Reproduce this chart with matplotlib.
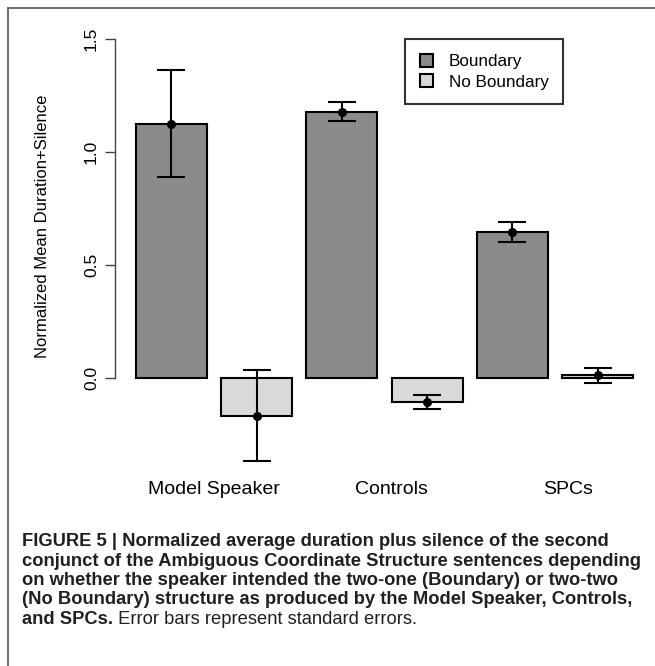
import matplotlib
matplotlib.use("Agg")
import matplotlib.pyplot as plt
from matplotlib.patches import Patch
from matplotlib.lines import Line2D
from matplotlib import font_manager
from matplotlib.font_manager import FontProperties

groups = ["Model Speaker", "Controls", "SPCs"]
series = ["Boundary", "No Boundary"]
boundary_mean = [1.125, 1.178, 0.645]
boundary_se = [0.236, 0.043, 0.045]
noboundary_mean = [-0.166, -0.107, 0.012]
noboundary_se = [0.202, 0.030, 0.032]
yticks = [0.0, 0.5, 1.0, 1.5]
ylabel = "Normalized Mean Duration+Silence"
caption_lines = [
    "FIGURE 5 | Normalized average duration plus silence of the second",
    "conjunct of the Ambiguous Coordinate Structure sentences depending",
    "on whether the speaker intended the two-one (Boundary) or two-two",
    "(No Boundary) structure as produced by the Model Speaker, Controls,",
]
caption_last_bold = "and SPCs."
caption_last_regular = " Error bars represent standard errors."

col_b = "#8a8a8a"
col_nb = "#d9d9d9"

W, H = 655, 666
fig = plt.figure(figsize=(W / 100, H / 100), dpi=100)
plt.rcParams["font.family"] = ["Liberation Sans", "DejaVu Sans"]

def fx(px):
    return px / W

def fy(py):
    return 1 - py / H

renderer = fig.canvas.get_renderer()

available = {f.name for f in font_manager.fontManager.ttflist}
cands = ["Liberation Sans Narrow", "Noto Sans SemiCondensed", "Open Sans SemiCondensed",
         "Noto Sans Condensed", "Open Sans Condensed", "Roboto Condensed",
         "Liberation Sans", "Lato", "Inter", "Roboto", "Noto Sans"]
best = None
for fam in cands:
    if fam not in available:
        continue
    fp = FontProperties(family=[fam], weight="bold", size=10)
    w, h, d = renderer.get_text_width_height_descent(caption_lines[1], fp, ismath=False)
    size = 10 * 621.0 / w
    fp2 = FontProperties(family=[fam], weight="bold", size=size)
    _, hc, dc = renderer.get_text_width_height_descent("H", fp2, ismath=False)
    cap = hc - dc
    score = abs(cap - 11.5)
    if best is None or score < best[0]:
        best = (score, fam, size)
cap_family, cap_size = best[1], best[2]
cap_font = [cap_family, "DejaVu Sans"]

ax_left, ax_right, ax_top, ax_bottom = 115, 645, 30, 470
ax = fig.add_axes([fx(ax_left), fy(ax_bottom), fx(ax_right) - fx(ax_left), fy(ax_top) - fy(ax_bottom)])
ppu_x = 71.0
ppu_y = 226.0
x0 = 0.2 - (136 - ax_left) / ppu_x
ax.set_xlim(x0, x0 + (ax_right - ax_left) / ppu_x)
ax.set_ylim(-(ax_bottom - 378) / ppu_y, (378 - ax_top) / ppu_y)

width = 1.0
space = 0.2
for i in range(len(groups)):
    xb = space + i * 2 * (width + space) + width / 2
    xn = xb + width + space
    for x, m, s, c in [(xb, boundary_mean[i], boundary_se[i], col_b),
                       (xn, noboundary_mean[i], noboundary_se[i], col_nb)]:
        ax.bar(x, m, width=width, color=c, edgecolor="black", linewidth=1.5, zorder=2)
        ax.errorbar(x, m, yerr=s, fmt="o", color="black", ms=5.5, elinewidth=1.5,
                    capsize=10, capthick=1.5, zorder=3)

for s in ["top", "right", "bottom"]:
    ax.spines[s].set_visible(False)
ax.spines["left"].set_bounds(0, 1.5)
ax.spines["left"].set_color("#444444")
ax.spines["left"].set_linewidth(1.0)
ax.set_xticks([])
ax.set_yticks(yticks)
ax.set_yticklabels([f"{v:.1f}" for v in yticks], rotation=90, va="center", fontsize=12.5)
ax.tick_params(axis="y", length=7.5, width=1.0, color="#444444", pad=4)
ax.patch.set_alpha(0)

fig.text(fx(43), fy(226), ylabel, rotation=90, ha="center", va="center", fontsize=12)

label_px = [214, 391, 568]
for lab, px in zip(groups, label_px):
    fig.text(fx(px), fy(490), lab, ha="center", va="center", fontsize=14)

handles = [Patch(facecolor=col_b, edgecolor="black", linewidth=1.5),
           Patch(facecolor=col_nb, edgecolor="black", linewidth=1.5)]
leg = fig.legend(handles, series, loc="upper left", bbox_to_anchor=(fx(405), fy(39)),
                 fontsize=12.3, frameon=True, fancybox=False, edgecolor="black",
                 handlelength=0.8, handleheight=0.8, handletextpad=0.9,
                 borderpad=0.85, labelspacing=0.3, borderaxespad=0)
leg.get_frame().set_linewidth(1.5)

fig.add_artist(Line2D([fx(8), 1], [fy(8), fy(8)], color="#555555", lw=1.2))
fig.add_artist(Line2D([fx(8), fx(8)], [fy(8), 0], color="#555555", lw=1.2))

cap_y = [541.5, 561, 580.5, 600, 619.5]
for line, y in zip(caption_lines, cap_y):
    fig.text(fx(22), fy(y), line, ha="left", va="center", fontsize=cap_size,
             fontweight="bold", family=cap_font, color="#231f20")
t = fig.text(fx(22), fy(cap_y[4]), caption_last_bold, ha="left", va="center",
             fontsize=cap_size, fontweight="bold", family=cap_font, color="#231f20")
bb = t.get_window_extent(renderer)
fig.text(bb.x1 / W, fy(cap_y[4]), caption_last_regular, ha="left", va="center",
         fontsize=cap_size, family=cap_font, color="#231f20")

fig.savefig("out.png", dpi=100)
